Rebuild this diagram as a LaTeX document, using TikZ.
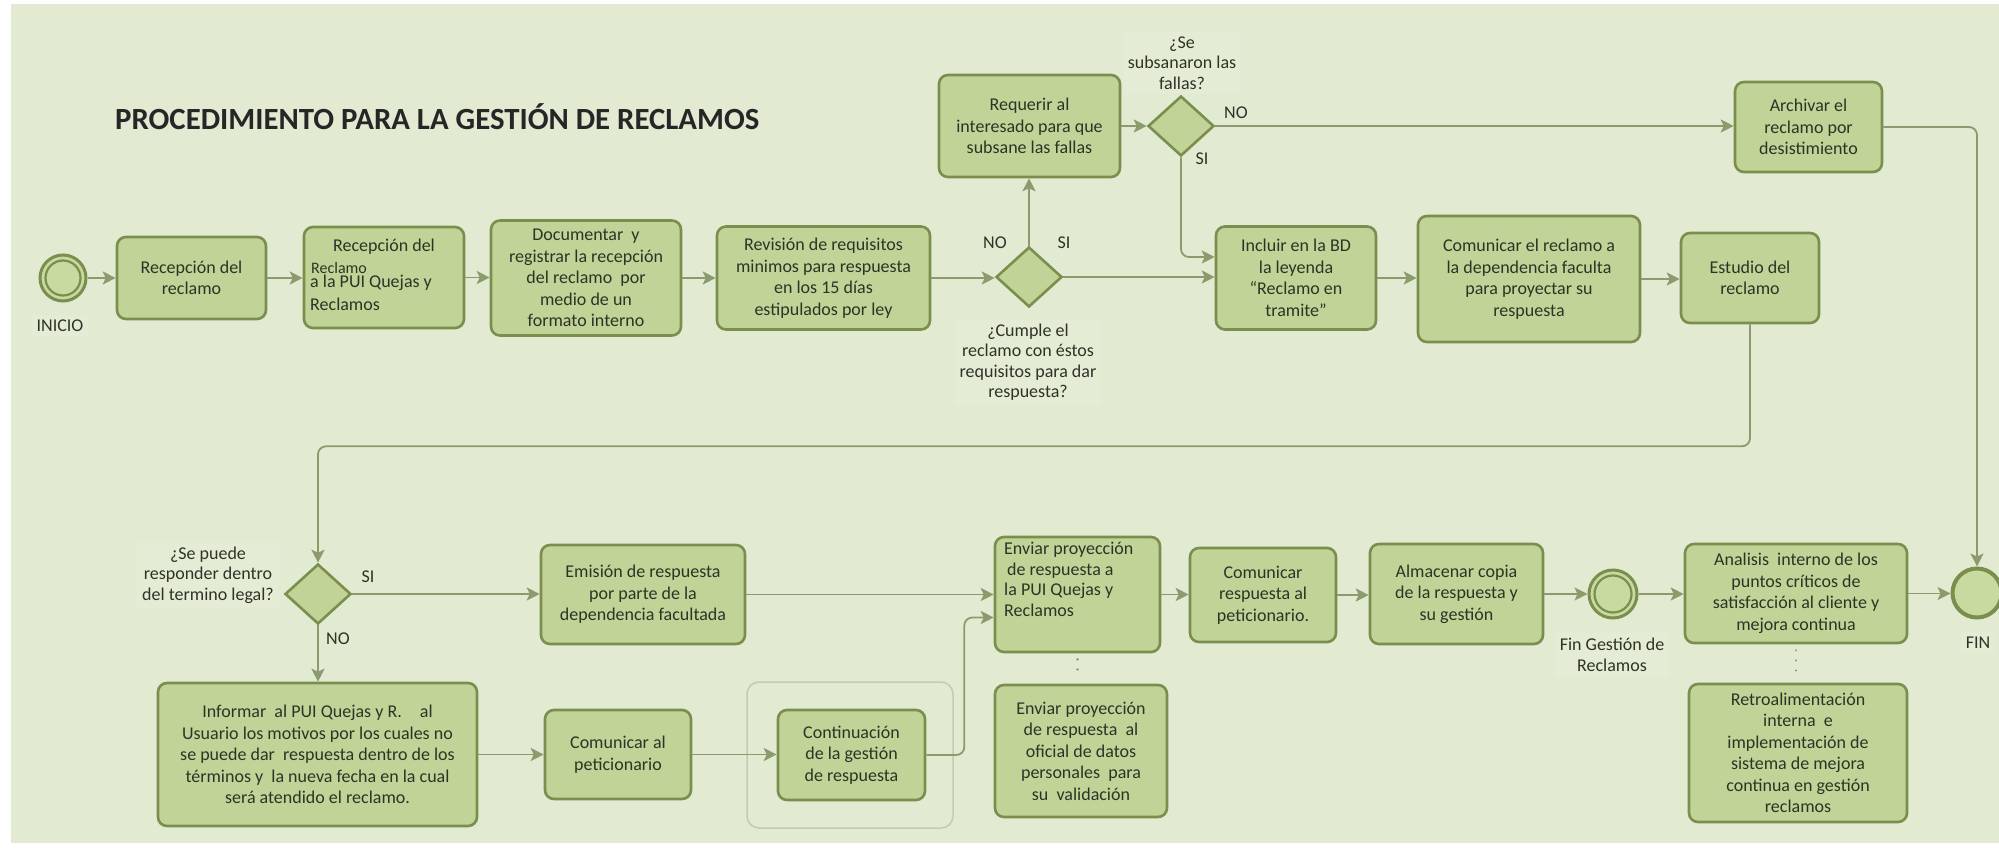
\documentclass[tikz,border=0pt]{standalone}
\usepackage{fontspec}
\setmainfont{Carlito}
\usetikzlibrary{shapes.geometric,arrows.meta,calc}
\definecolor{bgc}{HTML}{E2EAD2}
\definecolor{patch}{HTML}{E5ECD6}
\definecolor{boxfill}{HTML}{C2D397}
\definecolor{evfill}{HTML}{C8DAA0}
\definecolor{boxline}{HTML}{7A8F4E}
\definecolor{conncol}{HTML}{8C9B6E}
\definecolor{txtc}{HTML}{2E3326}
\definecolor{grpc}{HTML}{C4CAB4}
\begin{document}
\begin{tikzpicture}[x=1pt,y=-1pt,
  box/.style={draw=boxline, fill=boxfill, line width=2.6pt, rounded corners=9pt, align=center, text=txtc, font=\fontsize{18}{21.5}\selectfont, inner sep=2pt},
  dia/.style={diamond, draw=boxline, fill=boxfill, line width=2.6pt, inner sep=0pt, minimum width=66pt, minimum height=60pt},
  evt/.style={circle, draw=boxline, fill=evfill, inner sep=0pt},
  conn/.style={draw=conncol, line width=1.8pt, -{Stealth[length=13pt,width=13pt,inset=3pt]}},
  lbl/.style={text=txtc, font=\fontsize{18}{20.5}\selectfont, align=center, inner sep=0pt},
  plbl/.style={lbl, fill=patch, inner sep=5pt},
  dotc/.style={draw=conncol, line width=2.2pt, dash pattern=on 0.1pt off 10pt, line cap=round},
  grp/.style={draw=grpc, line width=1.5pt, rounded corners=12pt, inner sep=0pt},
]
\useasboundingbox (0,0) rectangle (1999,848);
\fill[white] (0,0) rectangle (1999,848);
\fill[bgc] (11,4) rectangle (1999,843);

% title
\node[font=\bfseries\fontsize{30.8}{34}\selectfont, text=black!85, anchor=west, inner sep=0pt] (title) at (115,117) {PROCEDIMIENTO PARA LA GESTIÓN DE RECLAMOS};

% label patches (drawn first)
\node[plbl] (lini) at (60,326) {INICIO};
\node[plbl] (q1) at (1028,362) {¿Cumple el\\reclamo con éstos\\requisitos para dar\\respuesta?};
\node[plbl] (q2) at (1182,63) {¿Se\\subsanaron las\\fallas?};
\node[plbl] (q3) at (208,575) {¿Se puede\\responder dentro\\del termino legal?};
\node[plbl] (lfing) at (1612,655) {Fin Gestión de\\Reclamos};
\node[plbl] (lfin) at (1978,643) {FIN};

% group frame
\node[grp, minimum width=206pt, minimum height=146pt] (grp) at (850,755) {};

% ---- row 1
\node[evt, line width=3pt, minimum size=46pt] (ini) at (63,278) {};
\draw[boxline, line width=2.2pt] (ini.center) circle[radius=17.5pt];
\node[box, minimum width=149pt, minimum height=82pt] (b1) at (191.5,278) {Recepción del\\reclamo};
\node[box, minimum width=160pt, minimum height=101pt] (b2) at (384,277.5) {};
\node[lbl] (b2a) at (384,247) {Recepción del};
\node[lbl, anchor=west, font=\fontsize{16}{18}\selectfont] (b2b) at (311,268) {Reclamo};
\node[lbl, anchor=west] (b2c) at (310,283) {a la PUI Quejas y};
\node[lbl, anchor=west] (b2d) at (310,304) {Reclamos};
\node[box, minimum width=190pt, minimum height=115pt] (b3) at (586,278) {Documentar~ y\\registrar la recepción\\del reclamo~ por\\medio de un\\formato interno};
\node[box, minimum width=213pt, minimum height=103pt] (b4) at (823.5,278) {Revisión de requisitos\\minimos para respuesta\\en los 15 días\\estipulados por ley};
\node[dia] (d1) at (1029,277) {};
\node[box, minimum width=181pt, minimum height=102pt] (req) at (1029.5,126) {Requerir al\\interesado para que\\subsane las fallas};
\node[dia] (d2) at (1181,126) {};
\node[box, minimum width=147pt, minimum height=90pt] (arch) at (1808.5,127) {Archivar el\\reclamo por\\desistimiento};
\node[box, minimum width=160pt, minimum height=103pt] (inc) at (1296,278) {Incluir en la BD\\la leyenda\\“Reclamo en\\tramite”};
\node[box, minimum width=222pt, minimum height=126pt] (com) at (1529,279) {Comunicar el reclamo a\\la dependencia faculta\\para proyectar su\\respuesta};
\node[box, minimum width=138pt, minimum height=90pt] (est) at (1750,278) {Estudio del\\reclamo};

% ---- row 2
\node[dia] (d3) at (318,594) {};
\node[box, minimum width=204pt, minimum height=99pt] (emi) at (643,594.5) {Emisión de respuesta\\por parte de la\\dependencia facultada};
\node[box, minimum width=165pt, minimum height=115pt] (env1) at (1077.5,594.5) {};
\node[lbl, align=left, anchor=north west] (env1t) at (1004,542) {Enviar proyección\\\,de respuesta a\\la PUI Quejas y\\Reclamos};
\node[box, minimum width=146pt, minimum height=94pt] (cresp) at (1263,595) {Comunicar\\respuesta al\\peticionario.};
\node[box, minimum width=173pt, minimum height=100pt] (alm) at (1456.5,594) {Almacenar copia\\de la respuesta y\\su gestión};
\node[evt, line width=3pt, minimum size=48pt] (fing) at (1613,594) {};
\draw[boxline, line width=2.2pt] (fing.center) circle[radius=18.5pt];
\node[box, minimum width=222pt, minimum height=99pt] (ana) at (1796,593.5) {Analisis~ interno de los\\puntos críticos de\\satisfacción al cliente y\\mejora continua};
\node[evt, line width=4pt, minimum size=49pt] (fin) at (1977,593) {};

% ---- row 3
\node[box, minimum width=319pt, minimum height=143pt] (inf) at (317.5,754.5) {Informar~ al PUI Quejas y R.\quad al\\Usuario los motivos por los cuales no\\se puede dar~ respuesta dentro de los\\términos y~ la nueva fecha en la cual\\será atendido el reclamo.};
\node[box, minimum width=146pt, minimum height=89pt] (cpet) at (618,754.5) {Comunicar al\\peticionario};
\node[box, minimum width=147pt, minimum height=90pt] (cont) at (851.5,755) {Continuación\\de la gestión\\de respuesta};
\node[box, minimum width=172pt, minimum height=132pt] (env2) at (1081,751) {Enviar proyección\\de respuesta~ al\\oficial de datos\\personales~ para\\su~ validación};
\node[box, minimum width=218pt, minimum height=138pt] (retro) at (1798,753) {Retroalimentación\\interna~ e\\implementación de\\sistema de mejora\\continua en gestión\\reclamos};

% ---- branch labels
\node[lbl] (no1) at (995,243) {NO};
\node[lbl] (si1) at (1064,243) {SI};
\node[lbl] (no2) at (1236,113) {NO};
\node[lbl] (si2) at (1202,159) {SI};
\node[lbl] (si3) at (368,577) {SI};
\node[lbl] (no3) at (338,639) {NO};

% ---- connectors
\draw[conn] (ini.east) -- (ini.east -| b1.west);
\draw[conn] (b1.east) -- (b1.east -| b2.west);
\draw[conn] (b2.east) -- (b2.east -| b3.west);
\draw[conn] (b3.east) -- (b3.east -| b4.west);
\draw[conn] (b4.east) -- (b4.east -| d1.west);
\draw[conn] (d1.north) -- (d1.north |- req.south);
\draw[conn] (d1.east) -- (d1.east -| inc.west);
\draw[conn] (req.east) -- (req.east -| d2.west);
\draw[conn] (d2.east) -- (d2.east -| arch.west);
\draw[conn, rounded corners=8pt] (d2.south) |- ($(inc.west)+(0,-21)$);
\draw[conn] (inc.east) -- (inc.east -| com.west);
\draw[conn] (com.east) -- (com.east -| est.west);
\draw[conn, rounded corners=8pt] (arch.east) -| (fin.north);
\draw[conn, rounded corners=8pt] (est.south) -- ++(0,122) -| (d3.north);
\draw[conn] (d3.east) -- (d3.east -| emi.west);
\draw[conn] (d3.south) -- (d3.south |- inf.north);
\draw[conn] (emi.east) -- (emi.east -| env1.west);
\draw[conn] (inf.east) -- (inf.east -| cpet.west);
\draw[conn] (cpet.east) -- (cpet.east -| cont.west);
\draw[conn, rounded corners=8pt] (cont.east) -- ++(38,0) |- ($(env1.west)+(0,23)$);
\draw[conn] (env1.east) -- (env1.east -| cresp.west);
\draw[conn] (cresp.east) -- (cresp.east -| alm.west);
\draw[conn] (alm.east) -- (alm.east -| fing.west);
\draw[conn] (fing.east) -- (fing.east -| ana.west);
\draw[conn] (ana.east) -- (ana.east -| fin.west);
\draw[dotc] ([yshift=-6pt]env1.south) -- ([yshift=6pt]env1.south |- env2.north);
\draw[dotc] ([yshift=-6pt]ana.south) -- ([yshift=6pt]ana.south |- retro.north);
\end{tikzpicture}
\end{document}
